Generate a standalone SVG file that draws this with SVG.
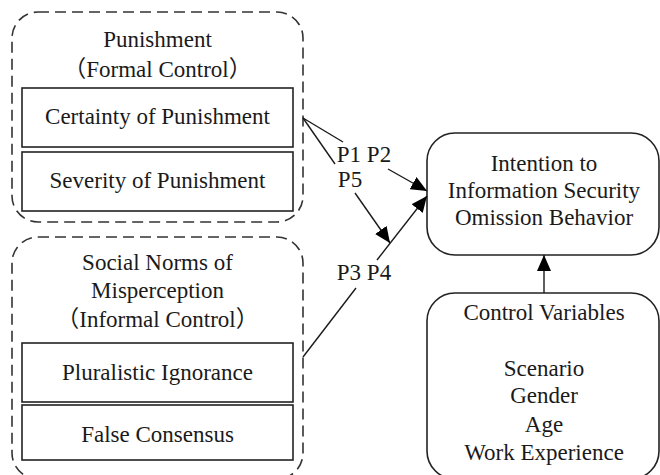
<svg xmlns="http://www.w3.org/2000/svg" width="660" height="475" viewBox="0 0 660 475">
<defs>
<style>
text{font-family:'Liberation Serif','Noto Sans CJK SC',serif;font-size:23px;fill:#1a1a1a;text-anchor:middle}
.dash{fill:none;stroke:#333;stroke-width:1.6;stroke-dasharray:11 6}
.box{fill:#fff;stroke:#222;stroke-width:1.6}
.rbox{fill:#fff;stroke:#222;stroke-width:1.6}
.conn{fill:none;stroke:#1a1a1a;stroke-width:1.4}
</style>
<marker id="ah" markerWidth="16" markerHeight="14" refX="16" refY="7" orient="auto" markerUnits="userSpaceOnUse">
<path d="M0,0 L16,7 L0,14 Z" fill="#000"/>
</marker>
</defs>
<rect width="660" height="475" fill="#fff"/>
<g id="punishment">
<rect class="dash" x="12" y="12" width="291" height="210" rx="26"/>
<text x="157.5" y="47">Punishment</text>
<text x="157.5" y="77">（Formal Control）</text>
</g>
<g id="certainty">
<rect class="box" x="22" y="88" width="271" height="59"/>
<text x="157.5" y="124">Certainty of Punishment</text>
</g>
<g id="severity">
<rect class="box" x="22" y="152" width="271" height="59"/>
<text x="157.5" y="188">Severity of Punishment</text>
</g>
<g id="social-norms">
<rect class="dash" x="12" y="237" width="291" height="242" rx="26"/>
<text x="157.5" y="270">Social Norms of</text>
<text x="157.5" y="298">Misperception</text>
<text x="157.5" y="327">（Informal Control）</text>
</g>
<g id="pluralistic">
<rect class="box" x="22" y="343" width="271" height="59"/>
<text x="157.5" y="380">Pluralistic Ignorance</text>
</g>
<g id="false-consensus">
<rect class="box" x="22" y="405" width="271" height="55"/>
<text x="157.5" y="442">False Consensus</text>
</g>
<g id="intention">
<rect class="rbox" x="427" y="133" width="232" height="122" rx="28"/>
<text x="544" y="171">Intention to</text>
<text x="544" y="198">Information Security</text>
<text x="544" y="225">Omission Behavior</text>
</g>
<g id="control">
<rect class="rbox" x="427" y="293" width="232" height="186" rx="28"/>
<text x="544" y="320">Control Variables</text>
<text x="544" y="376">Scenario</text>
<text x="544" y="403">Gender</text>
<text x="544" y="432">Age</text>
<text x="544" y="460">Work Experience</text>
</g>
<g id="connectors">
<line class="conn" x1="303" y1="118" x2="343" y2="142"/>
<line class="conn" x1="388" y1="169" x2="427" y2="191" marker-end="url(#ah)"/>
<line class="conn" x1="303" y1="118" x2="335" y2="164"/>
<line class="conn" x1="355" y1="193" x2="390" y2="243" marker-end="url(#ah)"/>
<line class="conn" x1="303" y1="357" x2="356" y2="288"/>
<line class="conn" x1="377" y1="260" x2="427" y2="196" marker-end="url(#ah)"/>
<line class="conn" x1="544" y1="293" x2="544" y2="255" marker-end="url(#ah)"/>
<text x="364" y="162">P1 P2</text>
<text x="350" y="187">P5</text>
<text x="364" y="280">P3 P4</text>
</g>
</svg>
